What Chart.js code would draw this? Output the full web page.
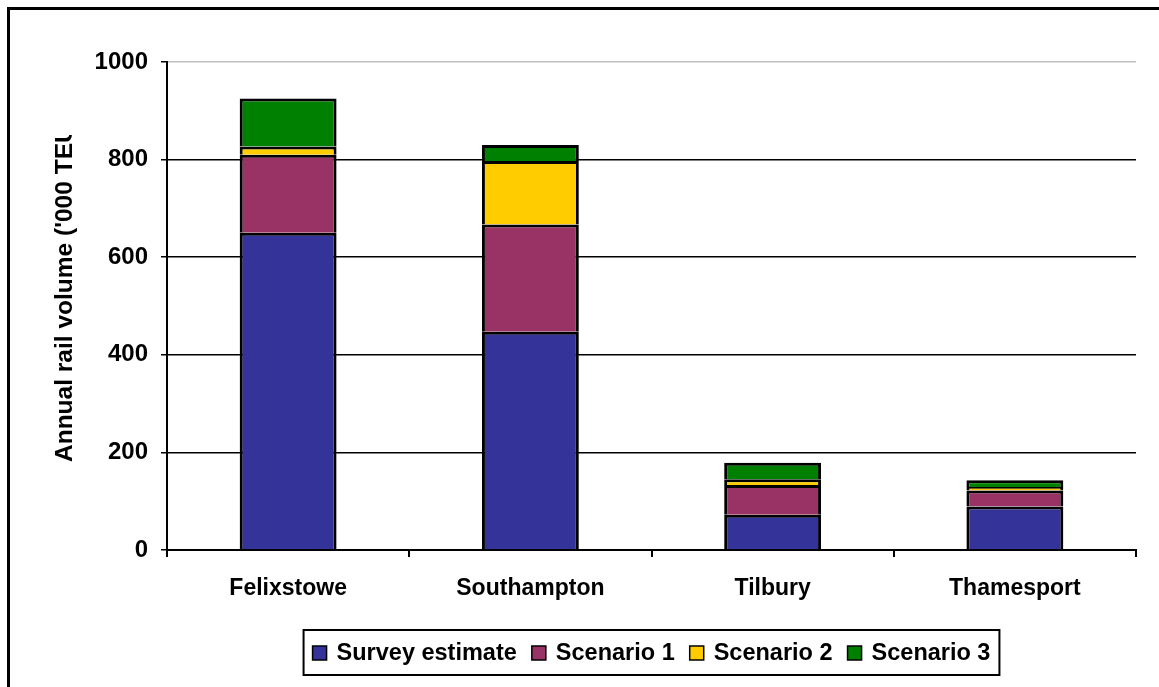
<!DOCTYPE html>
<html>
<head>
<meta charset="utf-8">
<script src="https://cdn.jsdelivr.net/npm/chart.js@4/dist/chart.umd.min.js"></script>
<style>
  html, body { margin: 0; padding: 0; background: #fff; }
  canvas { display: block; }
</style>
</head>
<body>
<canvas id="chart" width="1159" height="687"></canvas>
<script>
// ports and the four stacked series ('000 TEU)
const categories = ['Felixstowe', 'Southampton', 'Tilbury', 'Thamesport']
const surveyEstimate = [650, 447, 72, 89]
const scenario1 = [160, 220, 61, 33]
const scenario2 = [17, 130, 12, 7]
const scenario3 = [98, 33, 34, 14]
const yTicks = [0, 200, 400, 600, 800, 1000]
const seriesNames = ['Survey estimate', 'Scenario 1', 'Scenario 2', 'Scenario 3']
const seriesColors = ['#333399', '#993366', '#FFCC00', '#008000']
const yTitle = "Annual rail volume ('000 TEU)"

const FONT = "'Liberation Sans', Arial, sans-serif"

const makeSet = (i, values) => ({
    label: seriesNames[i],
    data: values,
    backgroundColor: seriesColors[i],
    borderColor: '#000',
    borderWidth: 3,
    borderSkipped: 'start',
    barPercentage: 0.4,
    categoryPercentage: 1
})

// frame, clipped y title and boxed legend
const decorations = {
    id: 'decorations',
    beforeDraw(chart) {
        const ctx = chart.ctx
        ctx.save()
        ctx.fillStyle = '#fff'
        ctx.fillRect(0, 0, chart.width, chart.height)
        ctx.strokeStyle = '#000'
        ctx.lineWidth = 3
        ctx.beginPath()
        ctx.moveTo(8.5, chart.height)
        ctx.lineTo(8.5, 8.5)
        ctx.lineTo(chart.width, 8.5)
        ctx.stroke()
        ctx.restore()
    },
    afterDraw(chart) {
        const ctx = chart.ctx

        // y title, cut off at the top like the original
        ctx.save()
        ctx.beginPath()
        ctx.rect(0, 135, 160, 500)
        ctx.clip()
        ctx.translate(72, 462)
        ctx.rotate(-Math.PI / 2)
        ctx.font = 'bold 24.5px ' + FONT
        ctx.fillStyle = '#000'
        ctx.textAlign = 'left'
        ctx.textBaseline = 'alphabetic'
        ctx.fillText(yTitle, 0, 0)
        ctx.restore()

        // legend
        ctx.save()
        ctx.font = 'bold 23.5px ' + FONT
        const sq = 14, gapText = 10, gapItem = 15
        const widths = seriesNames.map(n => ctx.measureText(n).width)
        let total = 0
        widths.forEach((w, i) => { total += sq + gapText + w + (i < widths.length - 1 ? gapItem : 0) })
        const area = chart.chartArea
        const cx = (area.left + area.right) / 2
        let x = cx - total / 2
        const boxPad = 9
        ctx.strokeStyle = '#000'
        ctx.lineWidth = 2
        ctx.strokeRect(x - boxPad, 630, total + boxPad * 2, 45)
        const yMid = 653
        seriesNames.forEach((name, i) => {
            ctx.fillStyle = seriesColors[i]
            ctx.fillRect(x, yMid - sq / 2, sq, sq)
            ctx.lineWidth = 1.5
            ctx.strokeRect(x, yMid - sq / 2, sq, sq)
            ctx.fillStyle = '#000'
            ctx.textAlign = 'left'
            ctx.textBaseline = 'middle'
            ctx.fillText(name, x + sq + gapText, yMid + 1)
            x += sq + gapText + widths[i] + gapItem
        })
        ctx.restore()
    }
}

new Chart(document.getElementById('chart'), {
    type: 'bar',
    data: {
        labels: categories,
        datasets: [
            makeSet(0, surveyEstimate),
            makeSet(1, scenario1),
            makeSet(2, scenario2),
            makeSet(3, scenario3)
        ]
    },
    options: {
        responsive: false,
        animation: false,
        devicePixelRatio: 1,
        layout: { padding: { top: 62, right: 23, bottom: 0, left: 0 } },
        plugins: {
            legend: { display: false },
            tooltip: { enabled: false }
        },
        scales: {
            x: {
                stacked: true,
                afterFit: (scale) => { scale.height = 137 },
                grid: {
                    display: true,
                    drawOnChartArea: false,
                    offset: true,
                    color: '#000',
                    lineWidth: 2,
                    tickLength: 7
                },
                border: { color: '#000', width: 2 },
                ticks: {
                    color: '#000',
                    padding: 18,
                    font: { family: FONT, size: 23, weight: 'bold' }
                }
            },
            y: {
                stacked: true,
                min: 0,
                max: 1000,
                afterFit: (scale) => { scale.width = 167 },
                afterBuildTicks: (scale) => { scale.ticks = yTicks.map(v => ({ value: v })) },
                grid: {
                    color: (c) => (c.tick && c.tick.value === 1000 ? '#c0c0c0' : '#000'),
                    tickColor: '#000',
                    lineWidth: 1.5,
                    tickLength: 6
                },
                border: { color: '#000', width: 2 },
                ticks: {
                    color: '#000',
                    padding: 13,
                    callback: (v) => String(v),
                    font: { family: FONT, size: 24, weight: 'bold' }
                }
            }
        }
    },
    plugins: [decorations]
})
</script>
</body>
</html>
